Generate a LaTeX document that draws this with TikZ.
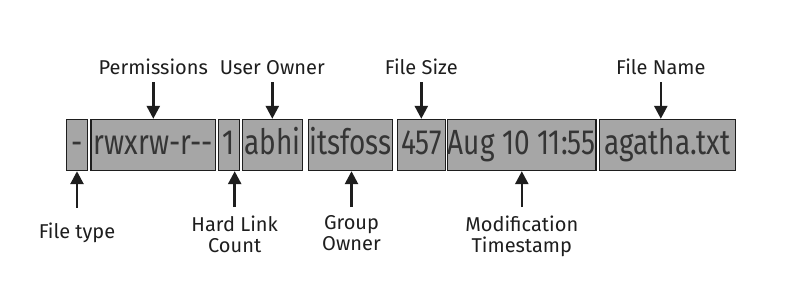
\documentclass[tikz,border=0pt]{standalone}
\usepackage{fontspec}
\setmainfont{Fira Sans}
\newfontfamily\fieldfont[FakeStretch=0.8]{Fira Sans}
\usetikzlibrary{positioning, arrows.meta}
\definecolor{boxgray}{HTML}{A6A6A6}
\definecolor{inkdark}{HTML}{1E1E1E}

\begin{document}
\begin{tikzpicture}[
    x=1pt, y=-1pt,
    field/.style={draw=inkdark, line width=1.4pt, fill=boxgray, minimum height=51pt, inner sep=0pt,
        text height=26pt, text depth=8pt, text=inkdark!90, font=\fieldfont\fontsize{35}{38}\selectfont},
    lbl/.style={font=\fontsize{20}{21}\selectfont, text=inkdark, align=center, inner sep=1pt},
    arrow/.style={-{Triangle[length=13pt, width=13pt]}, line width=2.6pt, draw=inkdark},
]
\useasboundingbox[fill=white] (0,0) rectangle (800,300);

% The fields of one ls -l line
\node[field, minimum width=20.6pt] (ftype) at (77,145) {-};
\node[field, minimum width=124.7pt] (perm) at (153.3,145) {rwxrw-r-{}-};
\node[field, minimum width=20.6pt] (links) at (229,145) {1};
\node[field, minimum width=60pt] (user) at (272.3,145) {abhi};
\node[field, minimum width=84.4pt] (group) at (350.5,145) {itsfoss};
\node[field, minimum width=48pt] (size) at (421.3,145) {457};
\node[field, minimum width=147pt] (mtime) at (521.8,145) {Aug 10 11:55};
\node[field, minimum width=136pt] (fname) at (667.3,145) {agatha.txt};

% Labels above
\node[lbl, text depth=0pt, above=42.8pt of perm] (lperm) {Permissions};
\node[lbl, text depth=0pt, above=42.8pt of user] (luser) {User Owner};
\node[lbl, text depth=0pt, above=42.8pt of size] (lsize) {File Size};
\node[lbl, text depth=0pt, above=42.8pt of fname, xshift=-6.5pt] (lfname) {File Name};
\foreach \f in {perm, user, size, fname} {
    \draw[arrow, shorten <=6pt] (l\f) -- (l\f |- \f.north);
}

% Labels below
\node[lbl, below=50.5pt of ftype] (lftype) {File type};
\node[lbl, below=43.5pt of links, xshift=5.7pt] (llinks) {Hard Link\\Count};
\node[lbl, below=43.5pt of group, xshift=1pt] (lgroup) {Group\\Owner};
\node[lbl, below=43.5pt of mtime] (lmtime) {Modification\\Timestamp};
\draw[arrow, shorten <=14pt] (lftype) -- (lftype |- ftype.south);
\foreach \f in {links, group, mtime} {
    \draw[arrow, shorten <=7.5pt] (l\f) -- (l\f |- \f.south);
}

\end{tikzpicture}
\end{document}
